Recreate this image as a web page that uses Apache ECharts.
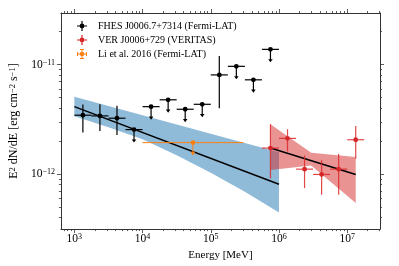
<!DOCTYPE html>
<html><head><meta charset="utf-8">
<script src="https://cdn.jsdelivr.net/npm/echarts@6/dist/echarts.min.js"></script>
<style>html,body{margin:0;padding:0;background:#fff}#c{width:399px;height:266px}</style>
</head><body><div id="c"></div>
<script>
// ---- FHES J0006.7+7314 (Fermi-LAT) ----
const fhesE      = [1334, 2371, 4217, 7499, 13335, 23714, 42170, 74989, 133352, 237137, 421697, 749894];
const fhesELow   = [1000, 1778, 3162, 5623, 10000, 17783, 31623, 56234, 100000, 177828, 316228, 562341];
const fhesEHigh  = [1778, 3162, 5623, 10000, 17783, 31623, 56234, 100000, 177828, 316228, 562341, 1000000];
const fhesFlux   = [3.45e-12, 3.40e-12, 3.24e-12, 2.55e-12, 4.13e-12, 4.77e-12, 3.91e-12, 4.34e-12, 8.05e-12, 9.64e-12, 7.26e-12, 1.377e-11];
const fhesFluxLow  = [2.40e-12, 2.47e-12, 2.27e-12, null, null, null, null, null, 3.99e-12, null, null, null];
const fhesFluxHigh = [4.33e-12, 4.34e-12, 4.20e-12, null, null, null, null, null, 1.20e-11, null, null, null];
const fhesUpperLimit = [false, false, false, true, true, true, true, true, false, true, true, true];

// ---- Fermi-LAT power-law fit and butterfly ----
const fermiFitE    = [1e3, 1e6];
const fermiFitFlux = [4.13e-12, 8.09e-13];
const fermiBandE     = [1e3, 3162, 1e4, 31623, 1e5, 316228, 1e6];
const fermiBandUpper = [5.09e-12, 4.19e-12, 3.45e-12, 2.84e-12, 2.34e-12, 1.92e-12, 1.58e-12];
const fermiBandLower = [3.37e-12, 2.68e-12, 2.08e-12, 1.49e-12, 1.03e-12, 6.90e-13, 4.47e-13];

// ---- VER J0006+729 (VERITAS) ----
const verE     = [749894, 1333521, 2371374, 4216965, 7498942, 13335214];
const verELow  = [562341, 1000000, 1778279, 3162278, 5623413, 10000000];
const verEHigh = [1000000, 1778279, 3162278, 5623413, 10000000, 17782794];
const verFlux     = [1.73e-12, 2.12e-12, 1.11e-12, 9.93e-13, 1.11e-12, 2.06e-12];
const verFluxLow  = [9.14e-13, 1.61e-12, 7.45e-13, 6.49e-13, 6.49e-13, 1.38e-12];
const verFluxHigh = [2.86e-12, 2.57e-12, 1.48e-12, 1.34e-12, 1.53e-12, 2.75e-12];
const verFitE    = [7.5e5, 1.334e7];
const verFitFlux = [1.73e-12, 9.93e-13];
const verBandE     = [7.5e5, 2.97e6, 1.334e7];
const verBandUpper = [2.85e-12, 1.57e-12, 1.43e-12];
const verBandLower = [1.09e-12, 1.20e-12, 5.46e-13];

// ---- Li et al. 2016 (Fermi-LAT) ----
const liE = [54772], liELow = [1e4], liEHigh = [3e5];
const liFlux = [1.94e-12], liFluxLow = [1.52e-12];

// ---- axes / ticks ----
const xMajorTicks = [1e3, 1e4, 1e5, 1e6, 1e7];
const xMinorTicks = [700, 800, 900, 2e3, 3e3, 4e3, 5e3, 6e3, 7e3, 8e3, 9e3, 2e4, 3e4, 4e4, 5e4, 6e4, 7e4, 8e4, 9e4,
  2e5, 3e5, 4e5, 5e5, 6e5, 7e5, 8e5, 9e5, 2e6, 3e6, 4e6, 5e6, 6e6, 7e6, 8e6, 9e6, 2e7, 3e7];
const yMajorTicks = [1e-12, 1e-11];
const yMinorTicks = [4e-13, 5e-13, 6e-13, 7e-13, 8e-13, 9e-13, 2e-12, 3e-12, 4e-12, 5e-12, 6e-12, 7e-12, 8e-12, 9e-12, 2e-11];
const xMin = Math.pow(10, 2.803), xMax = Math.pow(10, 7.481);
const yMin = Math.pow(10, -12.502), yMax = Math.pow(10, -10.529);

const FONT = 'Liberation Serif';
const AX = '#333';
function powLabel(v) {
  const e = Math.round(Math.log10(v));
  return '{b|10}{s|' + String(e).replace('-', '\u2212') + '}';
}
const richTick = {
  b: {fontFamily: FONT, fontSize: 11.5, color: '#000'},
  s: {fontFamily: FONT, fontSize: 8, color: '#000', verticalAlign: 'top'}
};
function xAx(pos, ticks, len, main) {
  return {
    type: 'log', position: pos, min: xMin, max: xMax, gridIndex: 0,
    axisLine: {show: main, lineStyle: {color: AX, width: 1}},
    axisTick: {show: true, customValues: ticks, length: len, lineStyle: {color: AX, width: 0.8}},
    axisLabel: (pos === 'bottom' && main) ? {show: true, customValues: ticks, formatter: powLabel, rich: richTick, margin: 4} : {show: false},
    splitLine: {show: false}, minorTick: {show: false}
  };
}
function yAx(pos, ticks, len, main) {
  return {
    type: 'log', position: pos, min: yMin, max: yMax, gridIndex: 0,
    axisLine: {show: main, lineStyle: {color: AX, width: 1}},
    axisTick: {show: true, customValues: ticks, length: len, lineStyle: {color: AX, width: 0.8}},
    axisLabel: (pos === 'left' && main) ? {show: true, customValues: ticks, formatter: powLabel, rich: richTick, margin: 6} : {show: false},
    splitLine: {show: false}, minorTick: {show: false}
  };
}
const xAxes = [xAx('bottom', xMajorTicks, 4, true), xAx('bottom', xMinorTicks, 2, false),
               xAx('top', xMajorTicks, 4, true), xAx('top', xMinorTicks, 2, false)];
xAxes[0].name = 'Energy [MeV]';
xAxes[0].nameLocation = 'middle';
xAxes[0].nameGap = 20;
xAxes[0].nameTextStyle = {fontFamily: FONT, fontSize: 11, color: '#000'};
const yAxes = [yAx('left', yMajorTicks, 4, true), yAx('left', yMinorTicks, 2, false),
               yAx('right', yMajorTicks, 4, true), yAx('right', yMinorTicks, 2, false)];
yAxes[0].name = '{b|E}{s|2}{b| dN/dE [erg cm}{s|\u22122}{b| s}{s|\u22121}{b|]}';
yAxes[0].nameLocation = 'middle';
yAxes[0].nameGap = 37;
yAxes[0].nameTextStyle = {rich: {
  b: {fontFamily: FONT, fontSize: 12, color: '#000'},
  s: {fontFamily: FONT, fontSize: 8.5, color: '#000', verticalAlign: 'top'}
}};

function bandRender(E, up, lo, fill) {
  return function (params, api) {
    if (params.dataIndex !== 0) return null;
    const pts = [];
    for (let i = 0; i < E.length; i++) pts.push(api.coord([E[i], up[i]]));
    for (let i = E.length - 1; i >= 0; i--) pts.push(api.coord([E[i], lo[i]]));
    return {type: 'polygon', shape: {points: pts}, style: {fill: fill}};
  };
}
function errRender(E, EL, EH, F, FL, FH, UL, dot, bar) {
  return function (params, api) {
    const i = params.dataIndex;
    const c = api.coord([E[i], F[i]]);
    const l = api.coord([EL[i], F[i]]);
    const r = api.coord([EH[i], F[i]]);
    const kids = [{type: 'line', shape: {x1: l[0], y1: c[1], x2: r[0], y2: c[1]}, style: {stroke: bar, lineWidth: 1.2}}];
    if (UL && UL[i]) {
      const tip = c[1] + 13;
      kids.push({type: 'line', shape: {x1: c[0], y1: c[1], x2: c[0], y2: tip - 2}, style: {stroke: bar, lineWidth: 1.2}});
      kids.push({type: 'polygon', shape: {points: [[c[0] - 2.3, tip - 3.2], [c[0] + 2.3, tip - 3.2], [c[0], tip]]}, style: {fill: bar}});
    } else {
      const t = api.coord([E[i], FH[i]]);
      const b = api.coord([E[i], FL[i]]);
      kids.push({type: 'line', shape: {x1: c[0], y1: t[1], x2: c[0], y2: b[1]}, style: {stroke: bar, lineWidth: 1.2}});
    }
    kids.push({type: 'circle', shape: {cx: c[0], cy: c[1], r: 2.4}, style: {fill: dot}});
    return {type: 'group', children: kids};
  };
}
function liRender(params, api) {
  const i = params.dataIndex;
  const c = api.coord([liE[i], liFlux[i]]);
  const l = api.coord([liELow[i], liFlux[i]]);
  const r = api.coord([liEHigh[i], liFlux[i]]);
  const b = api.coord([liE[i], liFluxLow[i]]);
  const col = '#ff7f0e';
  return {type: 'group', children: [
    {type: 'line', shape: {x1: l[0], y1: c[1], x2: r[0], y2: c[1]}, style: {stroke: col, lineWidth: 1}},
    {type: 'line', shape: {x1: c[0], y1: c[1], x2: c[0], y2: b[1]}, style: {stroke: col, lineWidth: 1}},
    {type: 'polygon', shape: {points: [[c[0] - 2.3, b[1] - 2.5], [c[0] + 2.3, b[1] - 2.5], [c[0], b[1] + 1.2]]}, style: {fill: col}},
    {type: 'circle', shape: {cx: c[0], cy: c[1], r: 2.3}, style: {fill: col}}
  ]};
}

const nameFHES = 'FHES J0006.7+7314 (Fermi-LAT)';
const nameVER = 'VER J0006+729 (VERITAS)';
const nameLi = 'Li et al. 2016 (Fermi-LAT)';
const iconErr = 'path://M0,4.4H10V5.6H0Z M4.4,0H5.6V10H4.4Z M7.4,5A2.4,2.4,0,1,1,2.6,5A2.4,2.4,0,1,1,7.4,5Z';
const iconCap = 'path://M0,4.5H10V5.5H0Z M0,3H1V7H0Z M9,3H10V7H9Z M4.5,0H5.5V10H4.5Z M3,0H7V1H3Z M3,9H7V10H3Z M7.2,5A2.2,2.2,0,1,1,2.8,5A2.2,2.2,0,1,1,7.2,5Z';

const chart = echarts.init(document.getElementById('c'), null, {renderer: 'canvas'});
chart.setOption({
  animation: false,
  backgroundColor: '#fff',
  grid: {left: 60, right: 19, top: 13, bottom: 33, containLabel: false},
  xAxis: xAxes,
  yAxis: yAxes,
  legend: {
    left: 72, top: 16, orient: 'vertical', itemWidth: 10, itemHeight: 10, itemGap: 4,
    textStyle: {fontFamily: FONT, fontSize: 10, color: '#000', padding: [0, 0, 0, 6]},
    data: [{name: nameFHES, icon: iconErr}, {name: nameVER, icon: iconErr}, {name: nameLi, icon: iconCap}]
  },
  series: [
    {type: 'custom', name: 'fermiBand', silent: true, clip: false, z: 2,
     data: fermiBandE.map((e, i) => [e, fermiBandUpper[i]]),
     renderItem: bandRender(fermiBandE, fermiBandUpper, fermiBandLower, 'rgba(31,119,180,0.5)')},
    {type: 'custom', name: 'verBand', silent: true, clip: false, z: 2,
     data: verBandE.map((e, i) => [e, verBandUpper[i]]),
     renderItem: bandRender(verBandE, verBandUpper, verBandLower, 'rgba(214,39,40,0.5)')},
    {type: 'line', name: 'fermiFit', silent: true, showSymbol: false, z: 3,
     data: fermiFitE.map((e, i) => [e, fermiFitFlux[i]]), lineStyle: {color: '#000', width: 1.5}},
    {type: 'line', name: 'verFit', silent: true, showSymbol: false, z: 3,
     data: verFitE.map((e, i) => [e, verFitFlux[i]]), lineStyle: {color: '#000', width: 1.5}},
    {type: 'custom', name: nameLi, z: 4, clip: false, itemStyle: {color: '#ff7f0e'},
     data: liE.map((e, i) => [e, liFlux[i]]), renderItem: liRender},
    {type: 'custom', name: nameVER, z: 4, clip: false, itemStyle: {color: '#d62728'},
     data: verE.map((e, i) => [e, verFlux[i]]),
     renderItem: errRender(verE, verELow, verEHigh, verFlux, verFluxLow, verFluxHigh, null, '#d62728', 'rgba(220,40,40,0.85)')},
    {type: 'custom', name: nameFHES, z: 4, clip: false, itemStyle: {color: '#000'},
     data: fhesE.map((e, i) => [e, fhesFlux[i]]),
     renderItem: errRender(fhesE, fhesELow, fhesEHigh, fhesFlux, fhesFluxLow, fhesFluxHigh, fhesUpperLimit, '#000', '#000')}
  ]
});
</script></body></html>
